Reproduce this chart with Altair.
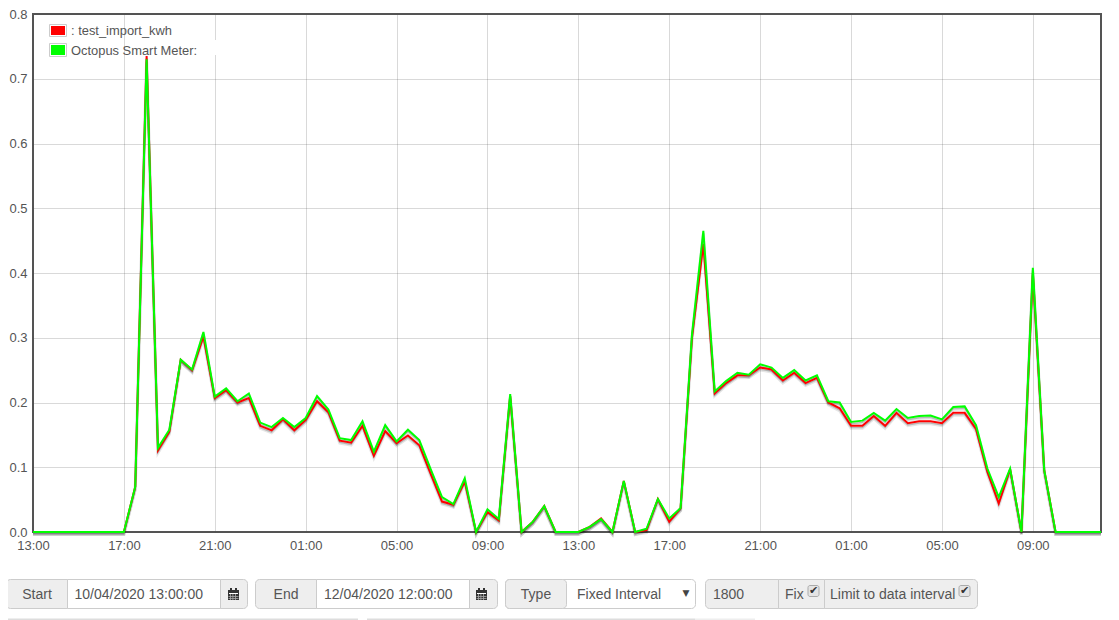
import altair as alt
import pandas as pd

red_values = [0, 0, 0, 0, 0, 0, 0, 0, 0, .07, .735, .126, .155, .266, .25, .302, .207, .219, .2, .207,
              .164, .157, .174, .157, .173, .202, .185, .141, .138, .164, .118, .156, .137, .149, .134,
              .09, .047, .042, .078, 0, .031, .018, .21, 0, .016, .04, 0, 0, 0, .008, .021, 0, .079, 0,
              .003, .051, .016, .037, .3, .445, .214, .23, .242, .242, .254, .251, .234, .246, .23, .238,
              .2, .191, .164, .164, .179, .164, .184, .168, .171, .171, .168, .184, .184, .159, .093,
              .044, .097, 0, .4, .096, 0, 0, 0, 0, 0]
green_values = [0, 0, 0, 0, 0, 0, 0, 0, 0, .07, .73, .13, .158, .266, .251, .309, .209, .222, .202, .214,
                .169, .162, .176, .162, .176, .21, .189, .145, .142, .171, .124, .165, .14, .158, .142,
                .097, .054, .043, .083, 0, .035, .02, .213, 0, .016, .04, 0, 0, 0, .008, .02, 0, .079, 0,
                .005, .051, .021, .037, .305, .465, .217, .233, .246, .243, .259, .254, .238, .25, .234, .242,
                .202, .2, .17, .172, .184, .172, .19, .176, .179, .18, .174, .193, .194, .165, .098,
                .054, .098, 0, .408, .096, 0, 0, 0, 0, 0]
series_names = [": test_import_kwh", "Octopus Smart Meter:"]
series_colors = ["#ff0000", "#00ff00"]
start_time = "2020-04-10T13:00:00Z"
end_time = "2020-04-12T12:00:00Z"
tick_times = ["2020-04-10T13:00:00Z", "2020-04-10T17:00:00Z", "2020-04-10T21:00:00Z", "2020-04-11T01:00:00Z",
              "2020-04-11T05:00:00Z", "2020-04-11T09:00:00Z", "2020-04-11T13:00:00Z", "2020-04-11T17:00:00Z",
              "2020-04-11T21:00:00Z", "2020-04-12T01:00:00Z", "2020-04-12T05:00:00Z", "2020-04-12T09:00:00Z"]
y_ticks = [0, .1, .2, .3, .4, .5, .6, .7, .8]

times = pd.date_range(start_time, periods=len(red_values), freq="30min").strftime("%Y-%m-%dT%H:%M:%SZ")
frames = []
for name, vals in zip(series_names, [red_values, green_values]):
    frames.append(pd.DataFrame({"time": times, "kwh": vals, "series": name}))
df = pd.concat(frames, ignore_index=True)

OX, OY = 33, 14
FONT = "Liberation Sans"
TICK_MS = [int(pd.Timestamp(t).timestamp() * 1000) for t in tick_times]
x_enc = alt.X("time:T", title=None,
              scale=alt.Scale(type="utc", domain=[int(pd.Timestamp(start_time).timestamp() * 1000),
                                                  int(pd.Timestamp(end_time).timestamp() * 1000)]),
              axis=alt.Axis(values=TICK_MS, format="%H:%M", labelFlush=False, labelOverlap=False))
y_enc = alt.Y("kwh:Q", title=None, scale=alt.Scale(domain=[0, .8], nice=False),
              axis=alt.Axis(values=y_ticks, format=".1f"))

base = alt.Chart(df)
shadow1 = base.mark_line(color="#000", opacity=.1, strokeWidth=3, yOffset=2.5, interpolate="linear").encode(
    x=x_enc, y=y_enc, detail="series:N")
shadow2 = base.mark_line(color="#000", opacity=.2, strokeWidth=1.5, yOffset=1.75, interpolate="linear").encode(
    x=x_enc, y=y_enc, detail="series:N")
lines = base.mark_line(strokeWidth=2, interpolate="linear").encode(
    x=x_enc, y=y_enc,
    color=alt.Color("series:N", legend=None,
                    scale=alt.Scale(domain=series_names, range=series_colors)))

one = alt.Data(values=[{"a": 1}])


def box(x0, y0, x1, y1, fill, stroke=None, radius=0, sw=1):
    kw = {"fill": fill, "clip": False}
    if stroke:
        kw.update(stroke=stroke, strokeWidth=sw)
    if radius:
        kw["cornerRadius"] = radius
    return alt.Chart(one).mark_rect(**kw).encode(
        x=alt.value(x0 - OX), x2=alt.value(x1 - OX), y=alt.value(y0 - OY), y2=alt.value(y1 - OY))


def label(x, y, s, size=14, color="#555555", align="left", font=FONT):
    return alt.Chart(one).mark_text(text=s, font=font, fontSize=size, color=color, align=align,
                                    baseline="middle", clip=False).encode(
        x=alt.value(x - OX), y=alt.value(y - OY))


deco = []
# legend
deco += [box(213, 40, 216, 55, "#ffffff")]
deco += [box(49.5, 24.5, 66.5, 36.5, "#ffffff", "#cccccc"), box(51, 26, 65, 35, "#ff0000"),
         box(49.5, 43.5, 66.5, 56.5, "#ffffff", "#cccccc"), box(51, 45, 65, 55, "#00ff00")]
deco += [label(71, 31, series_names[0], 12.9), label(71, 51, series_names[1], 12.9)]

T, B = 579.5, 608.5
TY = 594.5


def calendar(x):
    parts = [box(x + 2, 588, x + 4, 591, "#333333"), box(x + 7, 588, x + 9, 591, "#333333"),
             box(x, 590, x + 11, 600, "#333333"), box(x + 1, 593, x + 10, 594, "#ffffff")]
    for dx in [2, 4.5, 7]:
        parts.append(box(x + dx, 594, x + dx + .8, 600, "#aaaaaa"))
    for dy in [596, 598]:
        parts.append(box(x + .5, dy, x + 10.5, dy + .8, "#aaaaaa"))
    return parts


def date_group(x0, x1, x2, x3, caption, caption_x, value, value_x, icon_x):
    parts = [box(x0, T, x3, B, "#eeeeee", "#cccccc", 4),
             box(x1, T, x2, B, "#ffffff", "#cccccc")]
    parts += calendar(icon_x)
    parts += [label(caption_x, TY, caption, align="center"), label(value_x, TY, value)]
    return parts


deco += date_group(6.5, 67.5, 220.5, 247.5, "Start", 37, "10/04/2020 13:00:00", 74.5, 228)
deco += date_group(255.5, 316.5, 469.5, 497.5, "End", 286, "12/04/2020 12:00:00", 324, 476)
deco += [box(505.5, T, 695.5, B, "#ffffff", "#cccccc", 4),
         box(505.5, T, 566.5, B, "#eeeeee", "#cccccc", 4),
         label(536, TY, "Type", align="center"), label(577, TY, "Fixed Interval"),
         label(686, 593, "▼", 9, "#444444", "center", "DejaVu Sans")]
deco += [box(705.5, T, 977.5, B, "#eeeeee", "#cccccc", 4),
         box(778.5, T, 824.5, B, "#eeeeee", "#cccccc"),
         label(713, TY, "1800"), label(785, TY, "Fix"), label(830, TY, "Limit to data interval")]
for cx in [808, 959]:
    deco += [box(cx, 585.5, cx + 11, 596.5, "#e4e4e4", "#aaaaaa", 2),
             label(cx + 5.5, 591, "✔", 11, "#333333", "center", "DejaVu Sans")]
# top edge of the next row of panels
deco += [box(8, 618.5, 358, 620, "#dddddd"), box(367, 618.5, 695, 620, "#dddddd"),
         box(695, 618.5, 755, 620, "#eeeeee")]

chart = alt.layer(shadow1, shadow2, lines, *deco).resolve_scale(color="independent").properties(
    width=1068, height=518, background="#ffffff",
    padding={"left": OX - 8, "top": OY - 8, "right": 10, "bottom": 88},
    autosize=alt.AutoSizeParams(type="none"),
).configure_view(stroke="#545454", strokeWidth=2).configure_axis(
    grid=True, gridColor="#545454", gridOpacity=.22, gridWidth=1, ticks=False, domain=False,
    labelFont=FONT, labelFontSize=13, labelColor="#545454", labelPadding=6,
).configure_axisX(labelPadding=7)

chart.save("out.html", embed_options={"renderer": "svg", "actions": False})
